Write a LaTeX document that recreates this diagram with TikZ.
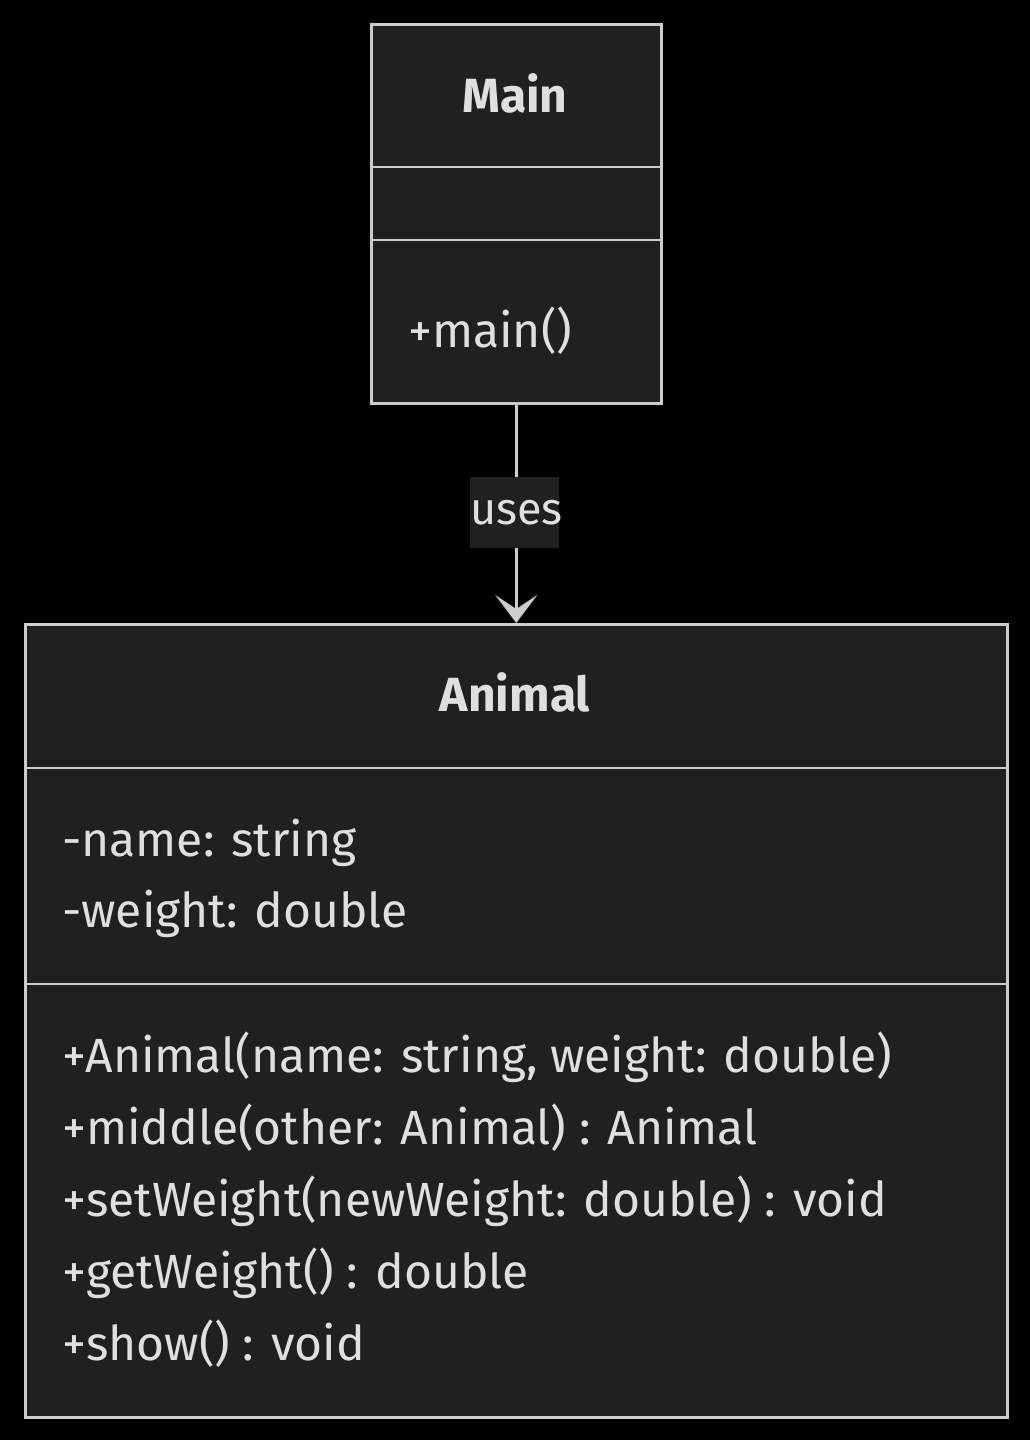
\documentclass[tikz,border=0pt]{standalone}
\usepackage{fontspec}
\setmainfont{Fira Sans}
\usetikzlibrary{arrows.meta}
\definecolor{bg}{HTML}{000000}
\definecolor{boxfill}{HTML}{1F2020}
\definecolor{boxline}{HTML}{CCCCCC}
\definecolor{txt}{HTML}{E0DFDF}
\tikzset{
  x=1pt, y=-1pt,
  classbox/.style={draw=boxline, fill=boxfill, line width=2.5pt},
  divider/.style={draw=boxline, line width=2.5pt},
  member/.style={anchor=base west, inner sep=0pt, text=txt, font=\fontsize{48}{56}\selectfont},
  title/.style={anchor=base, inner sep=0pt, text=txt, font=\fontsize{48}{56}\selectfont\bfseries},
  edgelabel/.style={fill=boxfill, text=txt, inner sep=0pt, text width=89pt, align=center, minimum height=71pt, font=\fontsize{45}{52}\selectfont},
  conn/.style={draw=boxline, line width=2.5pt}
}
\begin{document}
\begin{tikzpicture}
\fill[bg] (0,0) rectangle (1030,1440);
\useasboundingbox (0,0) rectangle (1030,1440);
% Main class
\node[classbox, minimum width=290pt, minimum height=379pt, inner sep=0pt, anchor=north west] (main) at (370,23) {};
\draw[divider] (370,167) -- (660,167);
\draw[divider] (370,240) -- (660,240);
\node[title] (mainTitle) at (515,112) {Main};
\node[member] (mainM) at (408,347) {+main()};
% Animal class
\node[classbox, minimum width=982pt, minimum height=793pt, inner sep=0pt, anchor=north west] (animal) at (24,623) {};
\draw[divider] (24,768) -- (1006,768);
\draw[divider] (24,984) -- (1006,984);
\node[title] (animalTitle) at (515,711) {Animal};
\node[member] (a1) at (62,856) {-name: string};
\node[member] (a2) at (62,927) {-weight: double};
\node[member] (m1) at (62,1072) {+Animal(name: string, weight: double)};
\node[member] (m2) at (62,1144) {+middle(other: Animal) : Animal};
\node[member] (m3) at (62,1216) {+setWeight(newWeight: double) : void};
\node[member] (m4) at (62,1288) {+getWeight() : double};
\node[member] (m5) at (62,1360) {+show() : void};
% connector
\draw[conn, -{Stealth[length=28pt, width=42pt, inset=14pt]}] (main.south) -- (animal.north);
\node[edgelabel] (uses) at (514.5,512.5) {uses};
\end{tikzpicture}
\end{document}
